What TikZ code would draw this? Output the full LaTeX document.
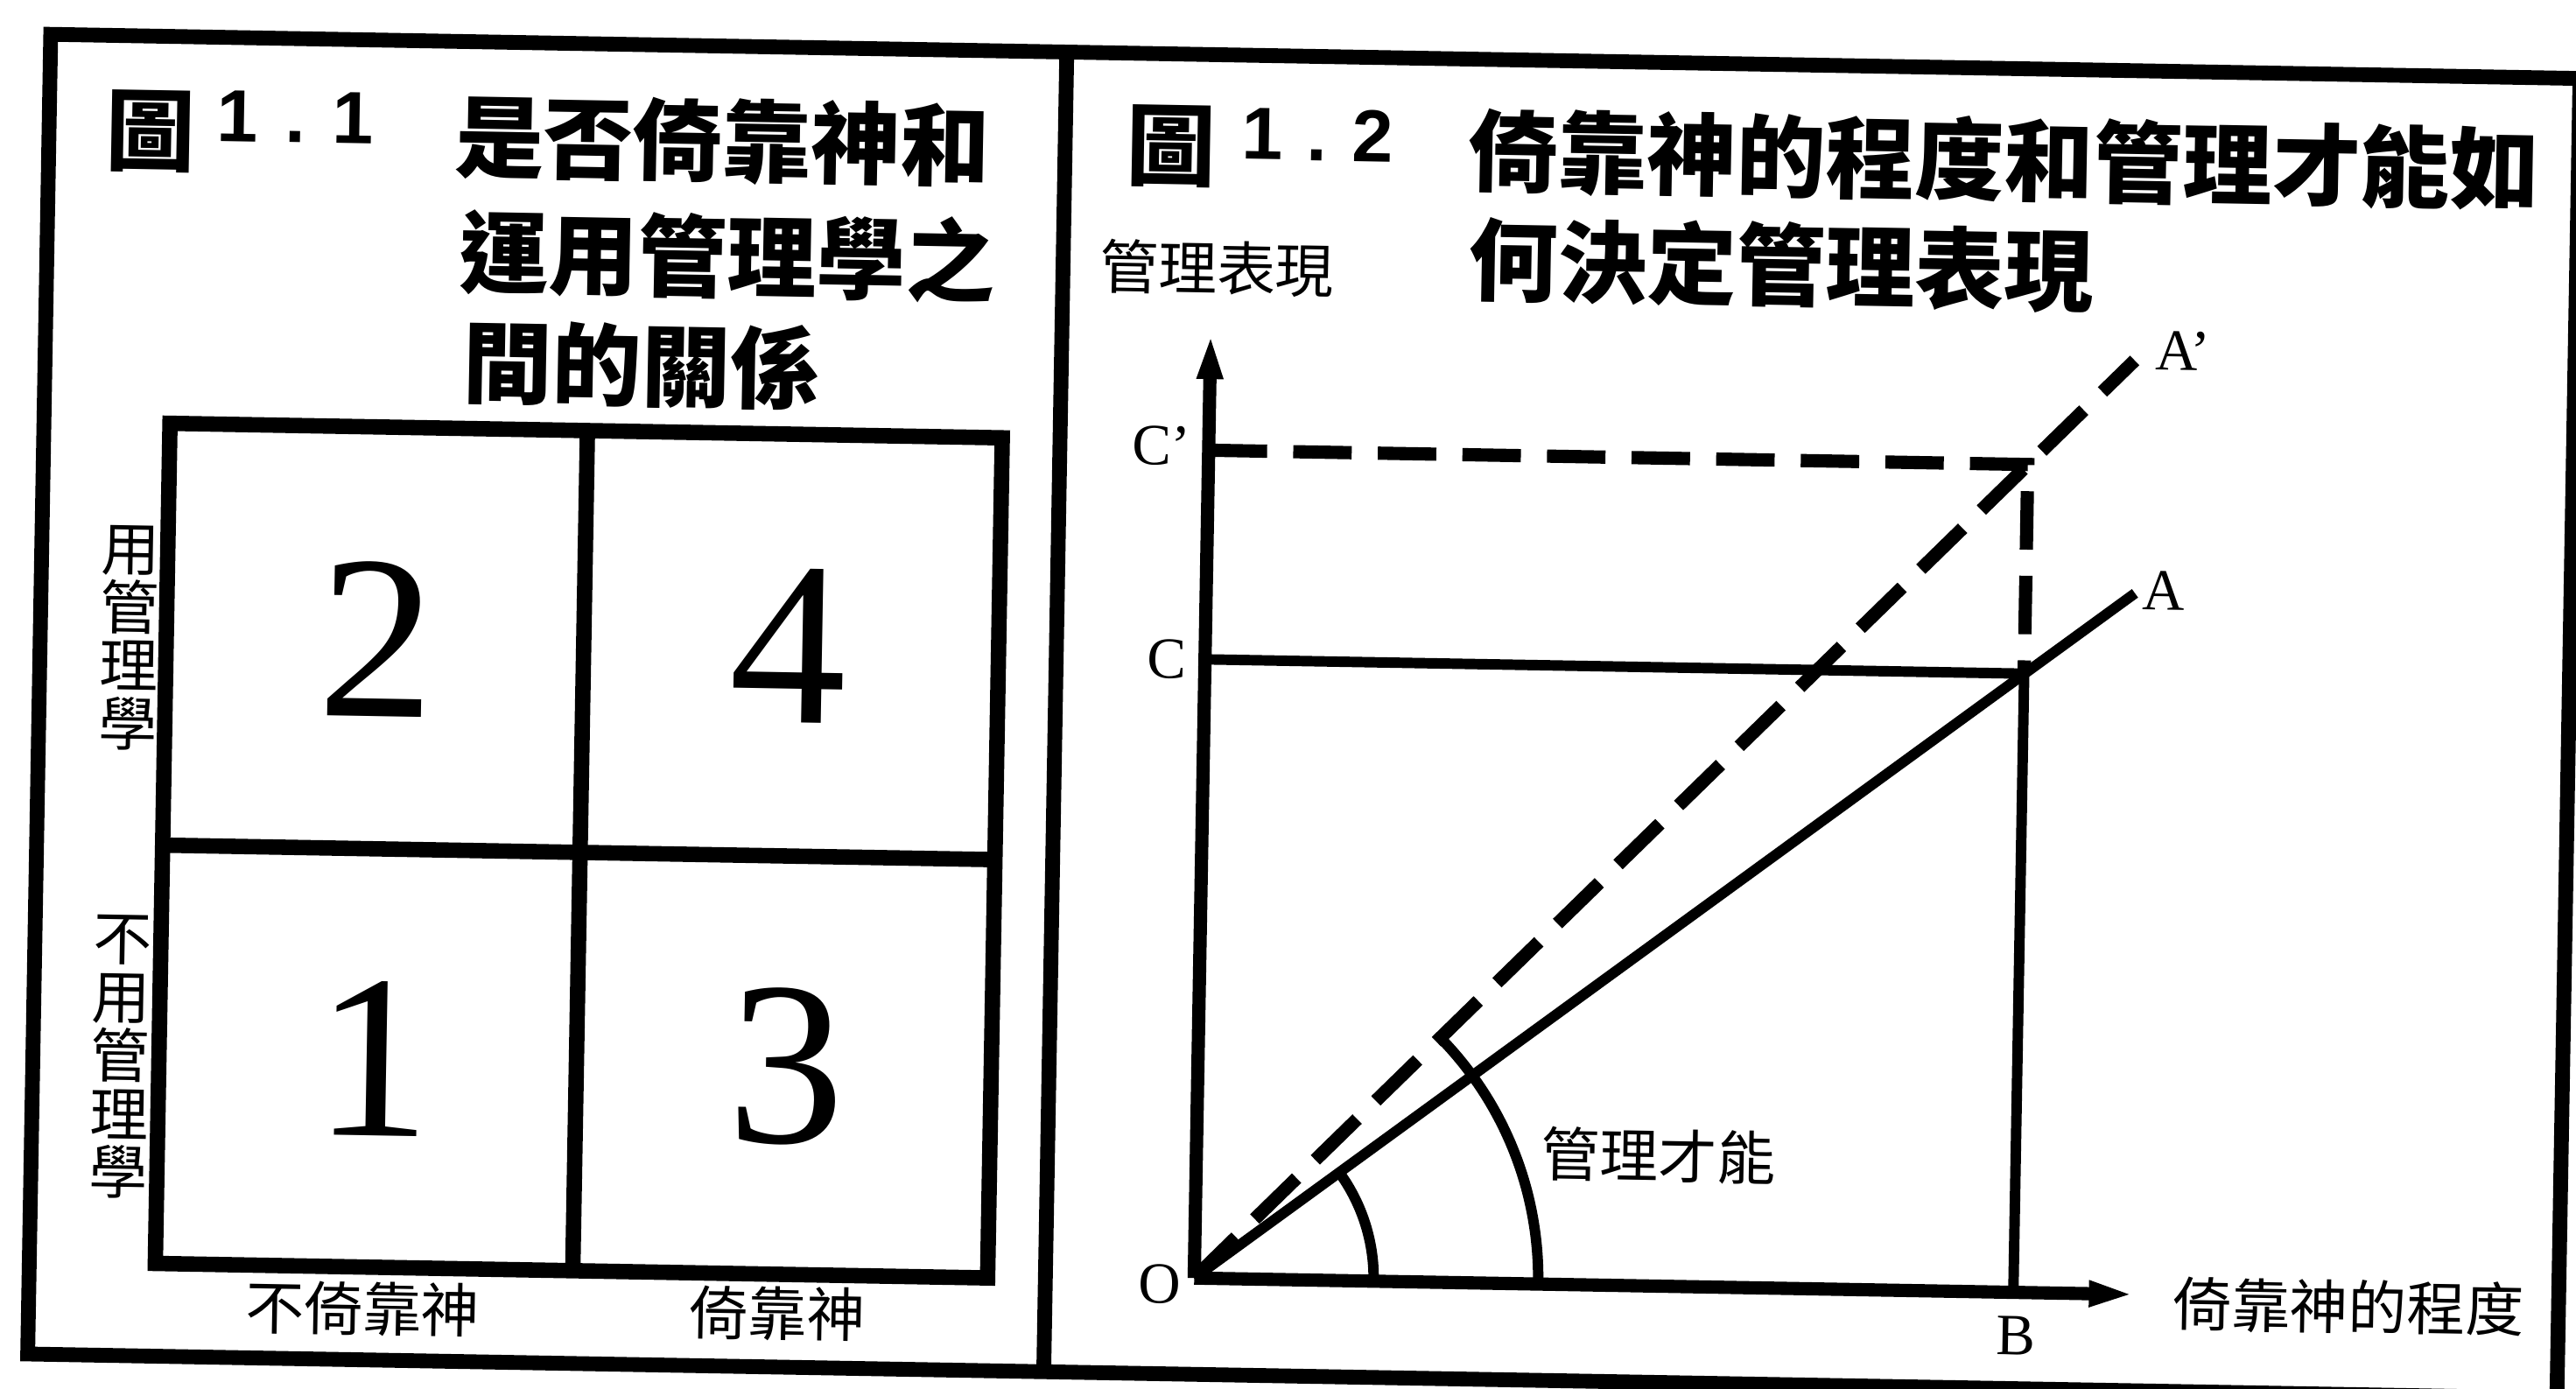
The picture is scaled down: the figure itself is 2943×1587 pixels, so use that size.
\documentclass[tikz,border=0pt]{standalone}
\usepackage{fontspec}
\setmainfont{Liberation Serif}
\newfontfamily\cjk{Noto Sans CJK TC}
\newfontfamily\numsans{Liberation Sans}
\usetikzlibrary{arrows.meta}
\tikzset{
  frameline/.style={line width=4.8pt, line join=miter},
  gridline/.style={line width=5pt, line join=miter},
  axisline/.style={line width=4.3pt, -{Triangle[length=15pt,width=7.5pt]}},
  solidline/.style={line width=3.4pt},
  dashline/.style={line width=4.3pt, dash pattern=on 19pt off 8.5pt},
  arcline/.style={line width=3.4pt},
  titletext/.style={inner sep=0pt, font=\cjk\bfseries\fontsize{29pt}{35pt}\selectfont},
  lbltext/.style={inner sep=0pt, font=\cjk\fontsize{19pt}{19pt}\selectfont},
  vlbl/.style={lbltext, align=center},
  bignum/.style={inner sep=0pt, font=\fontsize{76pt}{80pt}\selectfont},
  letter/.style={inner sep=0pt, font=\fontsize{19pt}{21pt}\selectfont},
  fignum/.style={inner sep=0pt, anchor=base, font=\numsans\bfseries\fontsize{24pt}{28pt}\selectfont},
}
\begin{document}
\begin{tikzpicture}[x=0.1mm, y=-0.1mm]
\useasboundingbox (0,0) rectangle (2943,1587);
\fill[white] (0,0) rectangle (2943,1587);
\begin{scope}[rotate around={-1:(1471,793)}, transform shape]
% frame
\coordinate (FTL) at (45,64);
\coordinate (FBR) at (2935,1572);
\coordinate (DT) at (1206,64);
\coordinate (DB) at (1206,1572);
\draw[frameline] (FTL) rectangle (FBR);
\draw[frameline] (DT) -- (DB);
% ---------- left panel ----------
\node[titletext] (t1fig) at (161,173) {圖};
\node[fignum] (t1num) at (326,183) {\makebox[18.8pt]{1}\makebox[18.8pt]{.}\makebox[18.8pt]{1}};
\node[titletext, anchor=west] (t1l1) at (508,173) {是否倚靠神和};
\node[titletext, anchor=west] (t1l2) at (516,304) {運用管理學之};
\node[titletext, anchor=west] (t1l3) at (522,430) {間的關係};
\coordinate (GTL) at (189,506);
\coordinate (GBR) at (1140,1466);
\coordinate (GTM) at (666,506);
\coordinate (GBM) at (666,1466);
\coordinate (GML) at (189,988);
\coordinate (GMR) at (1140,988);
\draw[gridline] (GTL) rectangle (GBR);
\draw[gridline] (GTM) -- (GBM);
\draw[gridline] (GML) -- (GMR);
\node[bignum] (n2) at (430,748) {2};
\node[bignum] (n4) at (900,748) {4};
\node[bignum] (n1) at (434,1228) {1};
\node[bignum] (n3) at (906,1228) {3};
\node[vlbl] (useM) at (147,752) {用\\管\\理\\學};
\node[vlbl] (noUseM) at (145,1231) {不\\用\\管\\理\\學};
\node[lbltext] (noRely) at (427,1514) {不倚靠神};
\node[lbltext] (rely) at (901,1511) {倚靠神};
% ---------- right panel ----------
\node[titletext] (t2fig) at (1327,170) {圖};
\node[fignum] (t2num) at (1494,183) {\makebox[17.9pt]{1}\makebox[17.9pt]{.}\makebox[17.9pt]{2}};
\node[titletext, anchor=west] (t2l1) at (1667,169) {倚靠神的程度和管理才能如};
\node[titletext, anchor=west] (t2l2) at (1669,293) {何決定管理表現};
\node[lbltext] (yl) at (1382,308) {管理表現};
\coordinate (O) at (1376,1462);
\coordinate (Ytip) at (1376,382);
\coordinate (Xtip) at (2451,1462);
\coordinate (Cp) at (1376,516);
\coordinate (CpB) at (2312,516);
\coordinate (Cc) at (1376,755);
\coordinate (BC) at (2312,755);
\coordinate (Bb) at (2312,1462);
\coordinate (Aend) at (2437,661);
\coordinate (Apend) at (2432,395);
\coordinate (arcA) at (1581,1462);
\coordinate (arcB) at (1769,1462);
\draw[dashline] (Cp) -- (CpB) -- (BC);
\draw[solidline] (Cc) -- (BC);
\draw[solidline] (BC) -- (Bb);
\draw[solidline] (O) -- (Aend);
\draw[dashline] (O) -- (Apend);
\draw[arcline] (arcA) arc[start angle=0, end angle=-37.06, radius=205];
\draw[arcline] (arcB) arc[start angle=0, end angle=-45.3, radius=393];
\draw[axisline] (O) -- (Ytip);
\draw[axisline] (O) -- (Xtip);
\node[letter] (lCp) at (1322,512) {C'};
\node[letter] (lC) at (1332,756) {C};
\node[letter] (lO) at (1337,1470) {O};
\node[letter] (lB) at (2316,1511) {B};
\node[letter] (lA) at (2470,657) {A};
\node[letter] (lAp) at (2487,383) {A'};
\node[lbltext] (talent) at (1904,1313) {管理才能};
\node[lbltext] (xl) at (2695,1472) {倚靠神的程度};
\end{scope}
\end{tikzpicture}
\end{document}
